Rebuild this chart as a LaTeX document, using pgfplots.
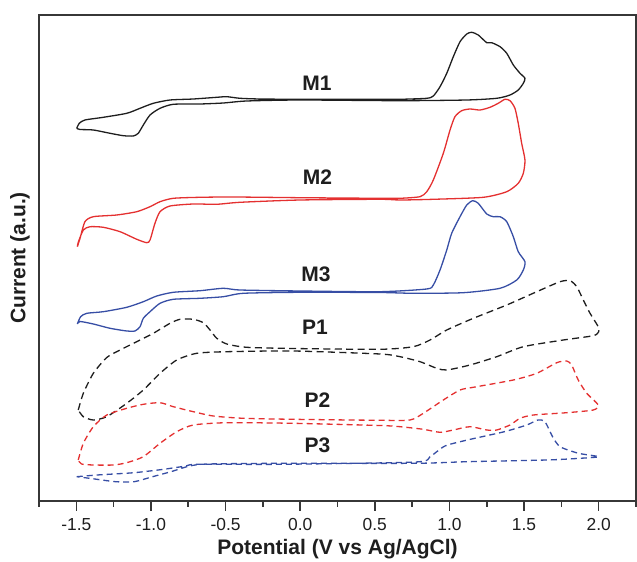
\documentclass[border=0pt]{standalone}
\usepackage{fontspec}
\setmainfont{Liberation Sans}
\usepackage{pgfplots}
\pgfplotsset{compat=1.18}
\definecolor{cvblack}{RGB}{30,30,30}
\definecolor{cvred}{RGB}{228,48,48}
\definecolor{cvblue}{RGB}{55,78,165}
\definecolor{framegray}{RGB}{55,55,55}

\begin{document}
\begin{tikzpicture}
\begin{axis}[
  scale only axis,
  width=298.5pt, height=243pt,
  xmin=-1.75, xmax=2.25, ymin=0, ymax=486,
  axis line style={framegray, line width=0.9pt},
  xtick={-1.5,-1,...,2},
  xticklabels={-1.5,-1.0,-0.5,0.0,0.5,1.0,1.5,2.0},
  minor xtick={-1.75,-1.25,...,2.25},
  ytick=\empty,
  xtick pos=bottom,
  tick align=outside,
  major tick length=5pt, minor tick length=3pt,
  every tick/.style={framegray, line width=0.8pt},
  xticklabel style={font=\fontsize{8.7}{10}\selectfont, text=cvblack},
  xlabel={Potential (V vs Ag/AgCl)},
  ylabel={Current (a.u.)},
  label style={font=\fontsize{10.5}{12}\selectfont\bfseries, text=cvblack},
  xlabel style={at={(axis description cs:0.5,-0.099)}, anchor=center},
  ylabel style={at={(axis description cs:-0.032,0.5)}, anchor=center},
  clip=false,
]
% M1
\addplot[cvblack, line width=0.65pt, smooth, tension=0.4] coordinates {
  (-1.497,372.7)(-1.480,377.7)(-1.442,381)(-1.319,383.7)(-1.162,387.7)
  (-1.073,392.7)(-0.984,397.7)(-0.872,401)(-0.716,402)(-0.559,403.7)
  (-0.492,404.3)(-0.403,402.7)(-0.269,402)(0.0,401.7)(0.535,401.7)
  (0.669,401.7)(0.848,402.7)(0.892,405)(0.937,414.3)(0.982,427.7)
  (1.026,444.3)(1.071,459.3)(1.116,467)(1.149,468.7)(1.193,466)
  (1.250,458.3)(1.283,458.3)(1.339,454.3)(1.384,447.7)(1.428,436)
  (1.473,427.7)(1.506,422.7)(1.495,417.7)(1.461,411)(1.406,406)
  (1.317,402.7)(1.116,401)(0.669,400.3)(0.0,401)(-0.358,400)
  (-0.515,398)(-0.671,397)(-0.850,396.7)(-0.939,392.7)(-1.006,386)
  (-1.051,376)(-1.085,367.7)(-1.118,365)(-1.185,365.3)(-1.274,367.7)
  (-1.386,371)(-1.475,371.5)(-1.497,372.7)
};
% M2
\addplot[cvred, line width=0.65pt, smooth, tension=0.4] coordinates {
  (-1.493,254.3)(-1.475,262.7)(-1.442,279.3)(-1.386,284.3)(-1.229,286)
  (-1.095,289.3)(-1.006,294.3)(-0.939,299.3)(-0.850,302.7)(-0.671,303.7)
  (-0.448,304)(0.0,303.3)(0.535,302.7)(0.669,302.7)(0.803,304.3)
  (0.848,309.3)(0.892,321)(0.959,347.7)(1.004,371)(1.037,384.3)
  (1.082,390.3)(1.138,392)(1.205,391)(1.272,393.7)(1.327,397.7)
  (1.372,401.7)(1.406,400.3)(1.439,392.7)(1.461,377.7)(1.484,357.7)
  (1.506,341)(1.495,327.7)(1.461,317.7)(1.384,309.3)(1.227,303.7)
  (0.892,301.7)(0.669,301)(0.535,301.7)(0.0,301)(-0.403,298.7)
  (-0.559,296.7)(-0.716,297)(-0.872,295)(-0.939,289.3)(-0.973,277.7)
  (-1.006,261)(-1.028,258.3)(-1.095,261.7)(-1.207,269.3)(-1.319,273.7)
  (-1.408,274.3)(-1.453,271)(-1.487,258.7)(-1.493,254.3)
};
% M3
\addplot[cvblue, line width=0.65pt, smooth, tension=0.4] coordinates {
  (-1.493,177)(-1.471,184.3)(-1.430,187.7)(-1.319,189.3)(-1.162,193.7)
  (-1.051,199.3)(-0.961,205)(-0.850,208.7)(-0.671,210.3)(-0.515,212.7)
  (-0.403,211)(0.0,210)(0.535,209.3)(0.848,212)(0.892,216)
  (0.937,231)(0.982,251)(1.015,267.7)(1.071,284.3)(1.116,296)
  (1.156,300.3)(1.193,297.7)(1.250,287)(1.294,284.3)(1.339,284.3)
  (1.384,279.3)(1.428,264.3)(1.461,249.3)(1.506,239.3)(1.495,231)
  (1.451,221)(1.339,212.7)(1.093,208.3)(0.758,207.7)(0.535,208.5)
  (0.0,208.7)(-0.381,207.7)(-0.515,204.3)(-0.671,202.7)(-0.850,201.7)
  (-0.939,197.7)(-1.006,189.3)(-1.051,182.7)(-1.073,174.3)(-1.107,170)
  (-1.162,170)(-1.274,172.7)(-1.386,177)(-1.475,179.5)(-1.493,177)
};
% P1
\addplot[cvblack, line width=0.65pt, smooth, tension=0.4, dash pattern=on 3.5pt off 2.2pt] coordinates {
  (-1.487,91)(-1.453,107.7)(-1.386,127.7)(-1.296,143.5)(-1.207,151)
  (-1.095,159.3)(-0.984,167.7)(-0.872,177.7)(-0.805,181.7)(-0.716,181.7)
  (-0.649,178.3)(-0.604,171)(-0.559,162.7)(-0.492,157)(-0.358,153.7)
  (-0.046,152.5)(0.535,151.7)(0.758,154.3)(0.870,161)(0.982,171)
  (1.160,182.7)(1.384,196)(1.585,209.3)(1.741,219.3)(1.808,220.3)
  (1.853,214.3)(1.897,201)(1.942,187.7)(1.997,174.3)(2.0,169.3)
  (1.964,165.3)(1.763,161)(1.495,154.3)(1.317,144.3)(1.138,136)
  (0.982,131)(0.915,132.7)(0.803,139.3)(0.669,144.3)(0.535,147)
  (-0.046,150)(-0.492,149.3)(-0.693,147.7)(-0.827,141)(-0.939,127.7)
  (-1.051,111)(-1.162,97.7)(-1.296,84.3)(-1.386,81)(-1.453,84.3)
  (-1.487,91)
};
% P2
\addplot[cvred, line width=0.65pt, smooth, tension=0.4, dash pattern=on 3pt off 2pt] coordinates {
  (-1.487,41)(-1.453,57.7)(-1.386,74.3)(-1.296,86)(-1.162,92.7)
  (-1.051,96.7)(-0.939,98.3)(-0.850,94.3)(-0.716,89.3)(-0.582,85)
  (-0.381,82.7)(-0.046,81.7)(0.535,80.7)(0.736,81)(0.825,87.7)
  (0.959,101)(1.071,111)(1.160,113.7)(1.428,121)(1.585,127.7)
  (1.719,138.3)(1.786,140)(1.819,136)(1.863,121)(1.920,107.7)
  (1.997,96)(1.964,91)(1.786,88.3)(1.562,86)(1.473,82.7)
  (1.406,76)(1.317,71)(1.250,71)(1.138,74.3)(1.026,71)
  (0.937,68.7)(0.825,71.7)(0.669,74.3)(0.535,75.5)(-0.046,77.7)
  (-0.492,78.3)(-0.716,76)(-0.827,69.3)(-0.939,57.7)(-1.051,44.3)
  (-1.162,38.3)(-1.252,36)(-1.386,36)(-1.465,37)(-1.487,41)
};
% P3
\addplot[cvblue, line width=0.65pt, smooth, tension=0.4, dash pattern=on 3pt off 2pt] coordinates {
  (-1.497,24.3)(-1.361,26)(-1.113,28.3)(-0.915,31.7)(-0.765,35)
  (-0.691,36.7)(-0.122,36.7)(0.773,39)(0.870,44.3)(0.970,55)
  (1.120,61)(1.368,69.3)(1.518,76)(1.593,81)(1.640,79.3)
  (1.691,64.3)(1.741,54.3)(1.865,47.7)(2.0,44.3)(1.875,42.7)
  (1.652,41)(1.120,39.3)(0.773,37.7)(-0.122,37.7)(-0.618,37)
  (-0.741,35)(-0.866,29.3)(-0.989,24.3)(-1.113,19.3)(-1.237,19.3)
  (-1.411,22.7)(-1.497,24.3)
};
\begin{scope}[every node/.style={font=\fontsize{10.5}{12}\selectfont\bfseries, text=cvblack}]
\node at (axis cs:0.113,418) {M1};
\node at (axis cs:0.116,323.5) {M2};
\node at (axis cs:0.106,226.5) {M3};
\node at (axis cs:0.099,173.5) {P1};
\node at (axis cs:0.116,100.5) {P2};
\node at (axis cs:0.116,55.5) {P3};
\end{scope}
\end{axis}
\pgfresetboundingbox
\path[use as bounding box] ([xshift=-19.5pt,yshift=-30.5pt]current axis.south west) rectangle ([xshift=0.5pt,yshift=7.5pt]current axis.north east);
\end{tikzpicture}
\end{document}
